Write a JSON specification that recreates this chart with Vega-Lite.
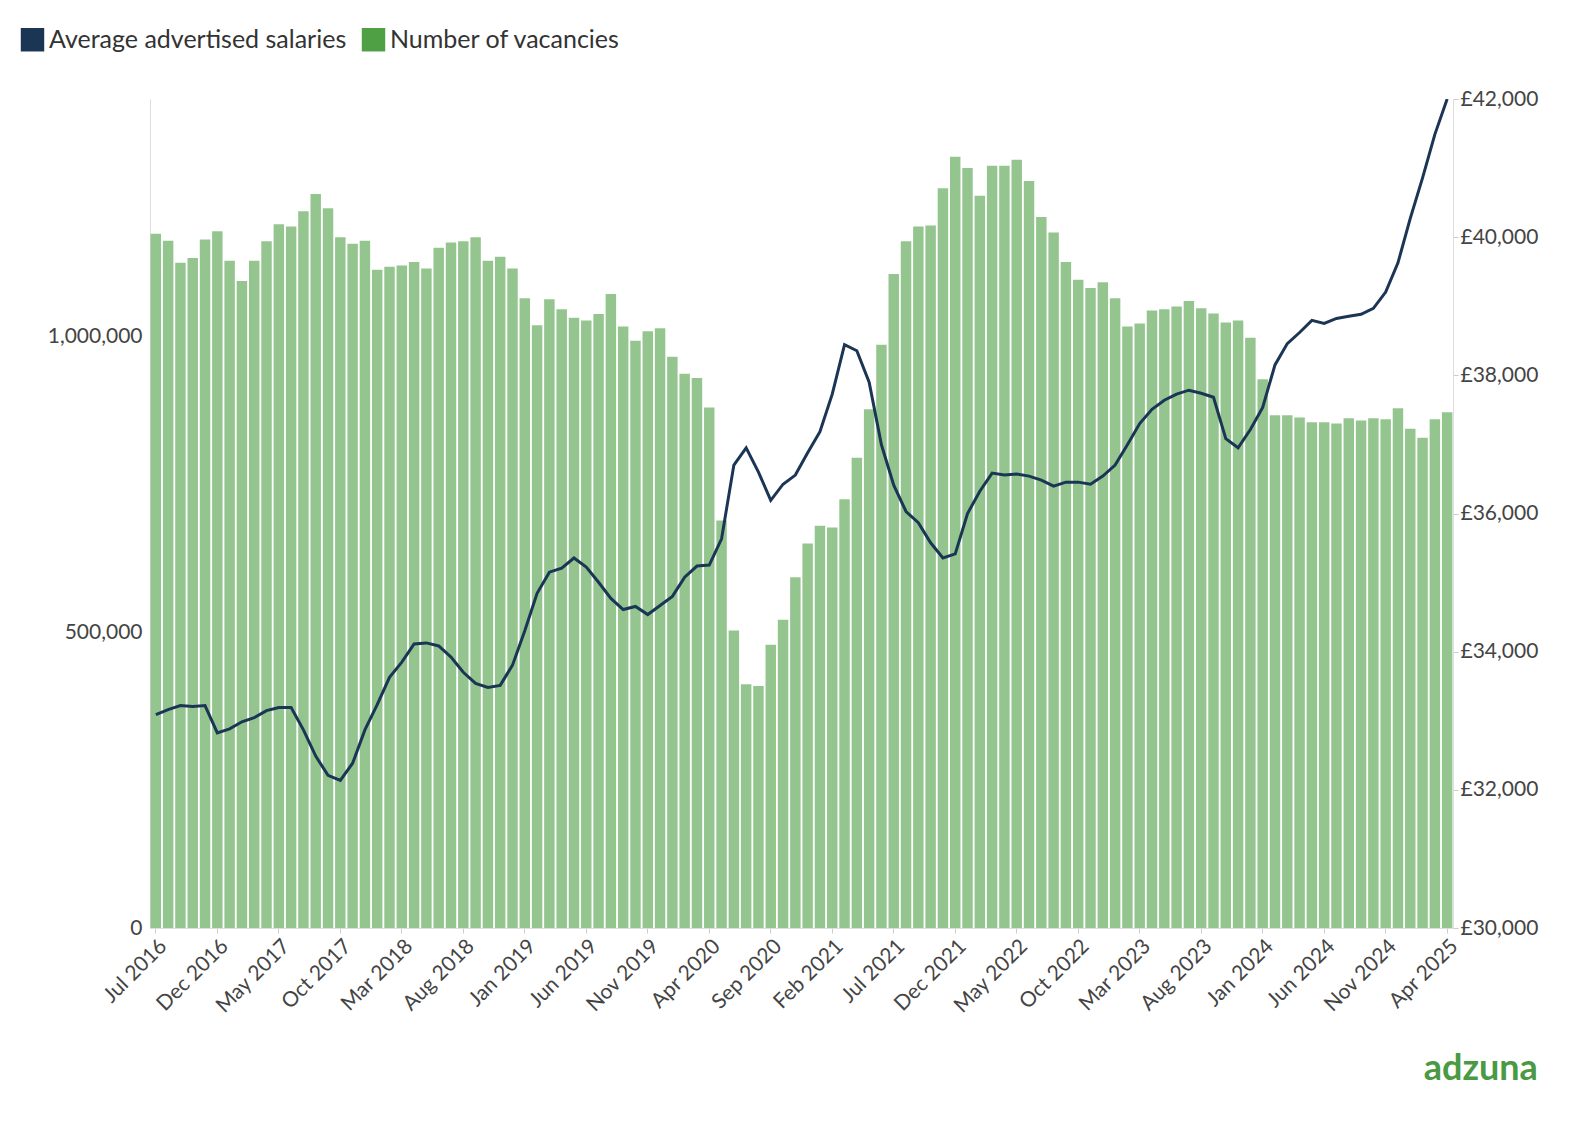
{
  "$schema": "https://vega.github.io/schema/vega-lite/v6.json",
  "width": 1303,
  "height": 829,
  "padding": {"left": 20, "top": 27, "right": 10, "bottom": 10},
  "title": {"text": "adzuna", "orient": "bottom", "anchor": "end", "color": "#4a9a44", "fontSize": 36, "font": "Lato", "fontWeight": "bold", "offset": 35},
  "data": {"values": [
    {"m":"Jul 2016","v":1174000,"s":33088},{"m":"Aug 2016","v":1162000,"s":33161},{"m":"Sep 2016","v":1125000,"s":33220},{"m":"Oct 2016","v":1133000,"s":33205},{"m":"Nov 2016","v":1164000,"s":33220},{"m":"Dec 2016","v":1178000,"s":32824},
    {"m":"Jan 2017","v":1128000,"s":32883},{"m":"Feb 2017","v":1094000,"s":32985},{"m":"Mar 2017","v":1128000,"s":33044},{"m":"Apr 2017","v":1161000,"s":33146},{"m":"May 2017","v":1190000,"s":33190},{"m":"Jun 2017","v":1186000,"s":33190},
    {"m":"Jul 2017","v":1212000,"s":32868},{"m":"Aug 2017","v":1241000,"s":32488},{"m":"Sep 2017","v":1217000,"s":32210},{"m":"Oct 2017","v":1168000,"s":32137},{"m":"Nov 2017","v":1157000,"s":32385},{"m":"Dec 2017","v":1162000,"s":32868},
    {"m":"Jan 2018","v":1113000,"s":33234},{"m":"Feb 2018","v":1118000,"s":33629},{"m":"Mar 2018","v":1120000,"s":33849},{"m":"Apr 2018","v":1126000,"s":34112},{"m":"May 2018","v":1115000,"s":34127},{"m":"Jun 2018","v":1150000,"s":34083},
    {"m":"Jul 2018","v":1159000,"s":33922},{"m":"Aug 2018","v":1161000,"s":33702},{"m":"Sep 2018","v":1168000,"s":33541},{"m":"Oct 2018","v":1128000,"s":33483},{"m":"Nov 2018","v":1135000,"s":33512},{"m":"Dec 2018","v":1115000,"s":33805},
    {"m":"Jan 2019","v":1065000,"s":34302},{"m":"Feb 2019","v":1019000,"s":34844},{"m":"Mar 2019","v":1063000,"s":35151},{"m":"Apr 2019","v":1046000,"s":35210},{"m":"May 2019","v":1032000,"s":35356},{"m":"Jun 2019","v":1027000,"s":35225},
    {"m":"Jul 2019","v":1038000,"s":35005},{"m":"Aug 2019","v":1072000,"s":34771},{"m":"Sep 2019","v":1017000,"s":34610},{"m":"Oct 2019","v":993000,"s":34654},{"m":"Nov 2019","v":1009000,"s":34537},{"m":"Dec 2019","v":1014000,"s":34668},
    {"m":"Jan 2020","v":966000,"s":34800},{"m":"Feb 2020","v":937000,"s":35078},{"m":"Mar 2020","v":930000,"s":35239},{"m":"Apr 2020","v":880000,"s":35254},{"m":"May 2020","v":689000,"s":35634},{"m":"Jun 2020","v":503000,"s":36702},
    {"m":"Jul 2020","v":412000,"s":36951},{"m":"Aug 2020","v":409000,"s":36600},{"m":"Sep 2020","v":479000,"s":36190},{"m":"Oct 2020","v":521000,"s":36424},{"m":"Nov 2020","v":593000,"s":36556},{"m":"Dec 2020","v":650000,"s":36878},
    {"m":"Jan 2021","v":680000,"s":37185},{"m":"Feb 2021","v":677000,"s":37727},{"m":"Mar 2021","v":725000,"s":38444},{"m":"Apr 2021","v":795000,"s":38356},{"m":"May 2021","v":877000,"s":37902},{"m":"Jun 2021","v":986000,"s":36995},
    {"m":"Jul 2021","v":1106000,"s":36410},{"m":"Aug 2021","v":1161000,"s":36029},{"m":"Sep 2021","v":1186000,"s":35868},{"m":"Oct 2021","v":1188000,"s":35576},{"m":"Nov 2021","v":1251000,"s":35356},{"m":"Dec 2021","v":1304000,"s":35415},
    {"m":"Jan 2022","v":1285000,"s":36000},{"m":"Feb 2022","v":1238000,"s":36322},{"m":"Mar 2022","v":1289000,"s":36585},{"m":"Apr 2022","v":1289000,"s":36556},{"m":"May 2022","v":1299000,"s":36570},{"m":"Jun 2022","v":1263000,"s":36541},
    {"m":"Jul 2022","v":1202000,"s":36483},{"m":"Aug 2022","v":1176000,"s":36395},{"m":"Sep 2022","v":1126000,"s":36454},{"m":"Oct 2022","v":1096000,"s":36454},{"m":"Nov 2022","v":1082000,"s":36424},{"m":"Dec 2022","v":1092000,"s":36541},
    {"m":"Jan 2023","v":1065000,"s":36702},{"m":"Feb 2023","v":1017000,"s":36995},{"m":"Mar 2023","v":1022000,"s":37302},{"m":"Apr 2023","v":1044000,"s":37507},{"m":"May 2023","v":1046000,"s":37639},{"m":"Jun 2023","v":1051000,"s":37727},
    {"m":"Jul 2023","v":1060000,"s":37785},{"m":"Aug 2023","v":1048000,"s":37741},{"m":"Sep 2023","v":1039000,"s":37683},{"m":"Oct 2023","v":1024000,"s":37083},{"m":"Nov 2023","v":1027000,"s":36951},{"m":"Dec 2023","v":998000,"s":37215},
    {"m":"Jan 2024","v":928000,"s":37536},{"m":"Feb 2024","v":867000,"s":38151},{"m":"Mar 2024","v":867000,"s":38459},{"m":"Apr 2024","v":863000,"s":38620},{"m":"May 2024","v":855000,"s":38795},{"m":"Jun 2024","v":855000,"s":38751},
    {"m":"Jul 2024","v":853000,"s":38824},{"m":"Aug 2024","v":862000,"s":38854},{"m":"Sep 2024","v":858000,"s":38883},{"m":"Oct 2024","v":862000,"s":38970},{"m":"Nov 2024","v":860000,"s":39205},{"m":"Dec 2024","v":879000,"s":39629},
    {"m":"Jan 2025","v":844000,"s":40273},{"m":"Feb 2025","v":829000,"s":40859},{"m":"Mar 2025","v":860000,"s":41488},{"m":"Apr 2025","v":872000,"s":42000}
  ]},
  "encoding": {
    "x": {
      "field": "m", "type": "ordinal", "sort": null, "title": null,
      "scale": {"paddingInner": 0.15, "paddingOuter": 0.05},
      "axis": {
        "values": ["Jul 2016","Dec 2016","May 2017","Oct 2017","Mar 2018","Aug 2018","Jan 2019","Jun 2019","Nov 2019","Apr 2020","Sep 2020","Feb 2021","Jul 2021","Dec 2021","May 2022","Oct 2022","Mar 2023","Aug 2023","Jan 2024","Jun 2024","Nov 2024","Apr 2025"],
        "labelAngle": -45, "labelAlign": "right", "labelBaseline": "top", "ticks": true, "tickColor": "#cccccc", "domainColor": "#dddddd"
      }
    },
    "color": {
      "scale": {"domain": ["Average advertised salaries", "Number of vacancies"], "range": ["#1b3555", "#4f9f45"]},
      "legend": {"orient": "none", "legendX": -130, "legendY": -72, "direction": "horizontal"}
    }
  },
  "layer": [
    {
      "mark": {"type": "bar", "opacity": 0.6},
      "encoding": {
        "y": {"field": "v", "type": "quantitative", "title": null,
          "scale": {"domain": [0, 1401700], "nice": false},
          "axis": {"values": [0, 500000, 1000000], "labelExpr": "format(datum.value, ',')", "grid": false, "domainColor": "#dddddd", "ticks": false, "labelPadding": 8}},
        "color": {"datum": "Number of vacancies"}
      }
    },
    {
      "mark": {"type": "line", "strokeWidth": 3, "clip": true},
      "encoding": {
        "y": {"field": "s", "type": "quantitative", "title": null,
          "scale": {"domain": [30000, 42000], "nice": false},
          "axis": {"orient": "right", "values": [30000, 32000, 34000, 36000, 38000, 40000, 42000], "labelExpr": "'£' + format(datum.value, ',')", "grid": false, "domainColor": "#dddddd", "tickColor": "#cccccc"}},
        "color": {"datum": "Average advertised salaries"}
      }
    }
  ],
  "resolve": {"scale": {"y": "independent"}},
  "config": {
    "font": "Lato",
    "view": {"stroke": null},
    "axis": {"labelFontSize": 21, "labelColor": "#444444"},
    "legend": {"title": null, "labelFontSize": 25, "labelColor": "#333333", "symbolType": "square", "symbolSize": 550, "symbolOpacity": 1, "symbolStrokeWidth": 0, "padding": 0, "columnPadding": 14, "labelLimit": 400}
  }
}
